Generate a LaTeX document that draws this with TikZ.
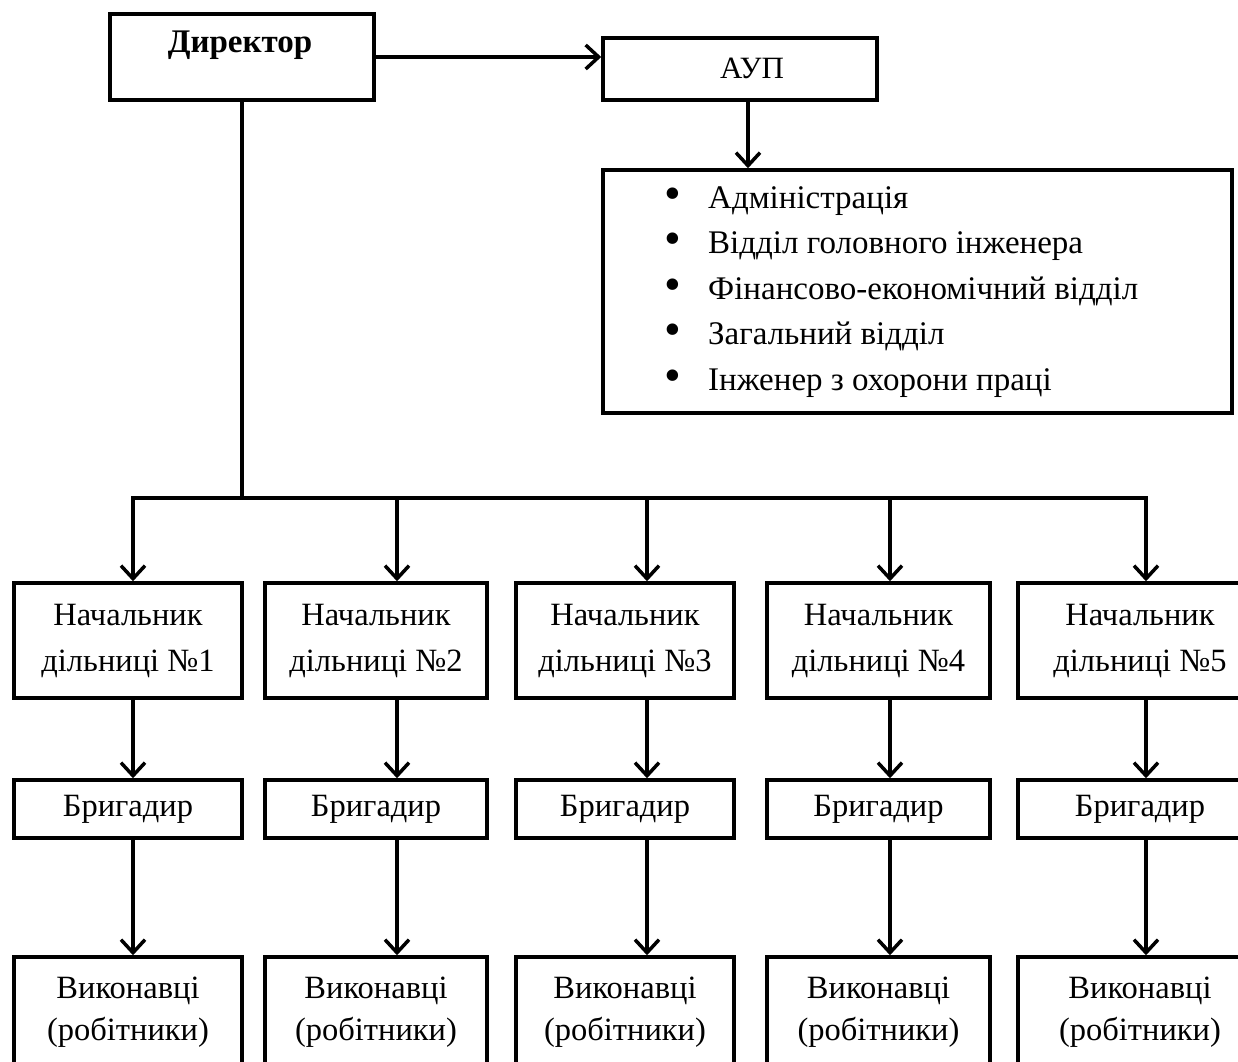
\documentclass[tikz,border=0pt]{standalone}
\usepackage{fontspec}
\setmainfont{Liberation Serif}
\usetikzlibrary{arrows.meta}
\newcommand{\bul}{\makebox[44pt][l]{\raisebox{-1pt}{\scalebox{1.45}{•}}}}
\begin{document}
\begin{tikzpicture}[x=1pt,y=-1pt,
  boxst/.style={draw, line width=3.5pt, rectangle, inner sep=0pt, align=center,
    font=\fontsize{32.5}{46}\selectfont},
  lastbox/.style={boxst, font=\fontsize{32.5}{42}\selectfont},
  txt/.style={inner sep=0pt, font=\fontsize{31}{46}\selectfont},
  conn/.style={line width=3.5pt},
  arr/.style={line width=3.5pt, -{Straight Barb[length=13pt,width=24pt]}},
]
\useasboundingbox (0,0) rectangle (1238,1061);
\clip (0,0) rectangle (1238,1061);
\fill[white] (0,0) rectangle (1238,1061);

% top
\node[boxst, minimum width=264pt, minimum height=86pt] (dir) at (242,57) {};
\node[txt, font=\fontsize{33}{46}\selectfont\bfseries] (dirlbl) at (240,45) {Директор};
\node[boxst, minimum width=274pt, minimum height=62pt] (aup) at (740,69) {};
\node[txt] (auplbl) at (752,68) {АУП};
\node[boxst, minimum width=629pt, minimum height=243pt] (list) at (917.5,291.5) {};
\node[anchor=west, align=left, inner sep=0pt, font=\fontsize{33}{45.5}\selectfont] (items) at (664,292)
 {\bul Адміністрація\\
  \bul Відділ головного інженера\\
  \bul Фінансово-економічний відділ\\
  \bul Загальний відділ\\
  \bul Інженер з охорони праці};

% rows
\foreach \i/\cx/\w in {1/128/228, 2/376/222, 3/625/218, 4/878.5/223, 5/1140/244}{
  \node[boxst, minimum width=\w pt, minimum height=115pt] (n\i) at (\cx,640.5) {Начальник\\дільниці №\i};
  \node[boxst, minimum width=\w pt, minimum height=58pt] (m\i) at (\cx,809) {Бригадир};
  \node[lastbox, minimum width=\w pt, minimum height=111pt] (w\i) at (\cx,1012.5) {Виконавці\\(робітники)};
}

% connectors
\coordinate (b1) at (133,498);
\coordinate (b2) at (397,498);
\coordinate (b3) at (647,498);
\coordinate (b4) at (890,498);
\coordinate (b5) at (1146,498);
\coordinate (aupx) at (748,100);

\draw[arr] (dir.east) -- (dir.east -| aup.west);
\draw[arr] (aupx) -- (aupx |- list.north);
\draw[conn] (dir.south) -- (dir.south |- b1);
\draw[conn, line cap=rect] (b1) -- (b5);
\foreach \i in {1,...,5}{
  \draw[arr] (b\i) -- (b\i |- n\i.north);
  \draw[arr] (n\i.south -| b\i) -- (m\i.north -| b\i);
  \draw[arr] (m\i.south -| b\i) -- (w\i.north -| b\i);
}
\end{tikzpicture}
\end{document}
